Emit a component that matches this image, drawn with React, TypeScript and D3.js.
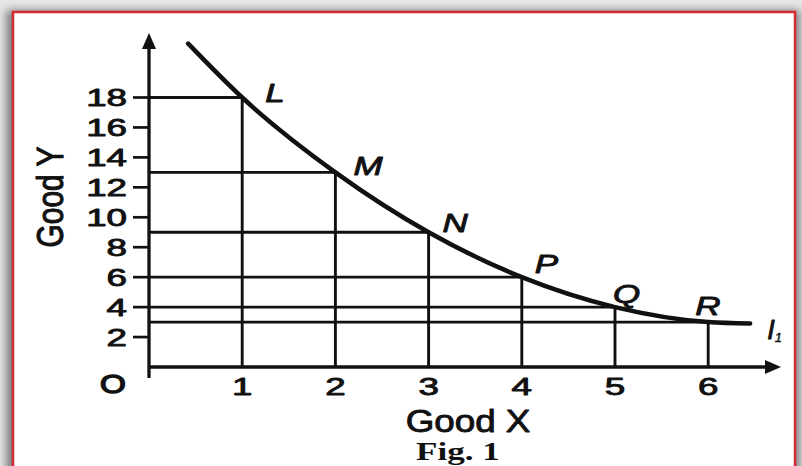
import React from "react";
import * as d3 from "d3";

// Indifference curve I1: combinations of Good X and Good Y
const goodX = [1, 2, 3, 4, 5, 6];
const goodY = [18, 13, 9, 6, 4, 3];
const pointNames = ["L", "M", "N", "P", "Q", "R"];
// the drawn curve runs a little past L and R
const curveLead = [0.42, 21.6];
const curveTail = [6.45, 2.9];
const curveName = "I";
const curveSub = "1";

const yTicks = [2, 4, 6, 8, 10, 12, 14, 16, 18];
const xTicks = [1, 2, 3, 4, 5, 6];

const W = 802;
const H = 466;

// label offsets (px) from each point
const labelOffsets: [number, number][] = [
  [23, 4.5],
  [18, 2.6],
  [14, 0],
  [13, -4],
  [-2, -4],
  [-13, -7],
];

const SANS = "'Liberation Sans', Arial, sans-serif";
const INK = "#111";
// a thin outline gives the printed glyphs their heavier weight
const heavy = { stroke: INK, strokeWidth: 0.9, strokeLinejoin: "round" as const };

export default function App() {
  const x = d3.scaleLinear().domain([0, 6]).range([149, 708.2]);
  const y = d3.scaleLinear().domain([0, 18]).range([367, 97.5]);

  const pts: [number, number][] = [
    curveLead as [number, number],
    ...goodX.map((v, i) => [v, goodY[i]] as [number, number]),
    curveTail as [number, number],
  ];
  const line = d3
    .line<[number, number]>()
    .x((d) => x(d[0]))
    .y((d) => y(d[1]))
    .curve(d3.curveMonotoneX);

  const x0 = x(0);
  const y0 = y(0);
  const axisTop = 33;
  const axisRight = 781;
  const digit = { fontFamily: SANS, fontSize: 24.5, fill: INK, ...heavy };

  return (
    <svg
      width={W}
      height={H}
      style={{ position: "absolute", left: 0, top: 0 }}
      xmlns="http://www.w3.org/2000/svg"
    >
      <defs>
        <filter id="shadow" x="-5%" y="-5%" width="110%" height="110%">
          <feGaussianBlur stdDeviation="4" />
        </filter>
      </defs>
      {/* page backdrop and framed panel */}
      <rect x={0} y={0} width={W} height={H} fill="#e6e8e6" />
      <rect x={6} y={10} width={794} height={470} fill="#7e7e7e" filter="url(#shadow)" />
      <rect x={13} y={12} width={782} height={470} fill="#ffffff" stroke="#d42a32" strokeWidth={2.5} />

      {/* drop lines from each point to both axes */}
      <g stroke={INK} strokeWidth={2.9}>
        {goodX.map((v, i) => (
          <line key={"h" + i} x1={x0} x2={x(v)} y1={y(goodY[i])} y2={y(goodY[i])} />
        ))}
        {goodX.map((v, i) => (
          <line key={"v" + i} x1={x(v)} x2={x(v)} y1={y(goodY[i])} y2={y0} />
        ))}
      </g>

      {/* axes */}
      <g stroke={INK} strokeWidth={3.3}>
        <line x1={x0} x2={x0} y1={378} y2={axisTop + 12} />
        <line x1={x0} x2={axisRight - 12} y1={y0} y2={y0} />
      </g>
      <path
        d={`M${x0},${axisTop} L${x0 - 7},${axisTop + 16} L${x0 + 7},${axisTop + 16} Z`}
        fill={INK}
      />
      <path
        d={`M${axisRight},${y0} L${axisRight - 16},${y0 - 7} L${axisRight - 16},${y0 + 7} Z`}
        fill={INK}
      />

      {/* y ticks */}
      {yTicks.map((t) => (
        <g key={"yt" + t}>
          <line x1={x0 - 16} x2={x0} y1={y(t)} y2={y(t)} stroke={INK} strokeWidth={2.7} />
          <text
            transform={`translate(127,${y(t) + 8.8}) scale(1.5,1)`}
            textAnchor="end"
            {...digit}
          >
            {t}
          </text>
        </g>
      ))}

      {/* x ticks */}
      {xTicks.map((t) => (
        <text
          key={"xt" + t}
          transform={`translate(${x(t)},395) scale(1.5,1)`}
          textAnchor="middle"
          {...digit}
        >
          {t}
        </text>
      ))}
      <text
        transform="translate(113,393) scale(1.3,1)"
        textAnchor="middle"
        {...digit}
        fontSize={25.5}
        strokeWidth={1.4}
      >
        O
      </text>

      {/* indifference curve */}
      <path d={line(pts) || ""} fill="none" stroke={INK} strokeWidth={4.5} strokeLinecap="round" />

      {/* point labels */}
      {pointNames.map((n, i) => (
        <text
          key={n}
          transform={`translate(${x(goodX[i]) + labelOffsets[i][0]},${y(goodY[i]) + labelOffsets[i][1]}) scale(1.4,1)`}
          fontFamily={SANS}
          fontStyle="italic"
          fontSize={25}
          fill={INK}
          {...heavy}
        >
          {n}
        </text>
      ))}
      <text
        transform={`translate(${x(curveTail[0]) + 17},${y(curveTail[1]) + 15})`}
        fontFamily={SANS}
        fontStyle="italic"
        fontSize={27}
        fill={INK}
        {...heavy}
      >
        {curveName}
        <tspan fontSize={13} dy={3} strokeWidth={0.5}>
          {curveSub}
        </tspan>
      </text>

      {/* axis titles */}
      <text
        transform="translate(468,432) scale(1.15,1)"
        textAnchor="middle"
        fontFamily={SANS}
        fontSize={32}
        fill={INK}
        {...heavy}
      >
        Good X
      </text>
      <text
        transform="translate(63,197) rotate(-90) scale(1,1.25)"
        textAnchor="middle"
        fontFamily={SANS}
        fontSize={30}
        fill={INK}
        {...heavy}
      >
        Good Y
      </text>
      <text
        transform="translate(458,460) scale(1.35,1)"
        textAnchor="middle"
        fontFamily="'Liberation Serif', 'Times New Roman', serif"
        fontWeight="bold"
        fontSize={26}
        fill={INK}
      >
        Fig. 1
      </text>
    </svg>
  );
}
